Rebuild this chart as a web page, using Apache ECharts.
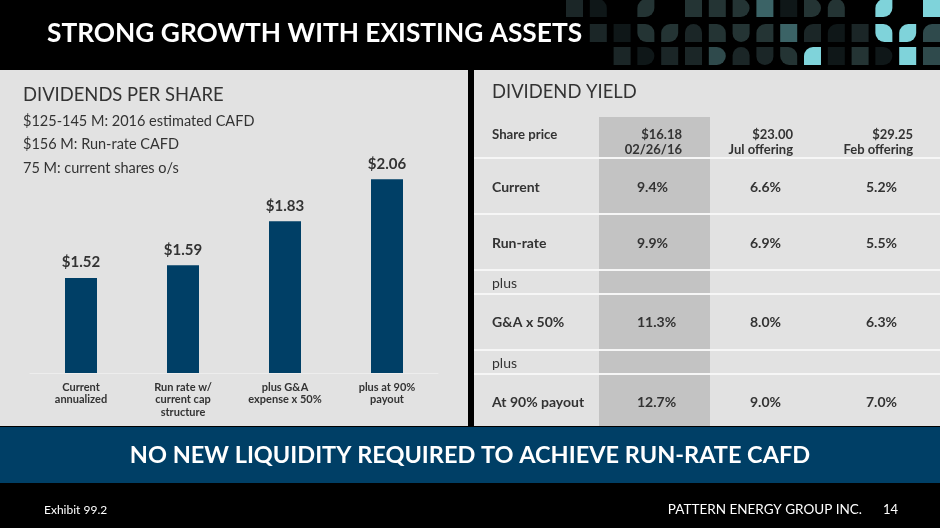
<!DOCTYPE html>
<html>
<head>
<meta charset="utf-8">
<script src="https://cdn.jsdelivr.net/npm/echarts@6/dist/echarts.min.js"></script>
<style>
  html, body { margin: 0; padding: 0; background: #000; }
  #main { width: 940px; height: 528px; }
</style>
</head>
<body>
<div id="main"></div>
<script>
(function () {
  // bar chart data
  var dpsCategories = ['Current\nannualized', 'Run rate w/\ncurrent cap\nstructure', 'plus G&A\nexpense x 50%', 'plus at 90%\npayout'];
  var dpsValues = [1.52, 1.59, 1.83, 2.06];
  var dpsNotes = ['$125-145 M: 2016 estimated CAFD', '$156 M: Run-rate CAFD', '75 M: current shares o/s'];

  // yield table data
  var priceHeads = [['$16.18', '02/26/16'], ['$23.00', 'Jul offering'], ['$29.25', 'Feb offering']];
  var rowNames = ['Current', 'Run-rate', 'G&A x 50%', 'At 90% payout'];
  var yieldAt1618 = [9.4, 9.9, 11.3, 12.7];
  var yieldAt2300 = [6.6, 6.9, 8.0, 9.0];
  var yieldAt2925 = [5.2, 5.5, 6.3, 7.0];

  var BLUE = '#003f66';
  var PANEL = '#e2e2e2';
  var INK = '#333333';
  var FONT = 'Lato, "Open Sans", sans-serif';

  var chart = echarts.init(document.getElementById('main'));
  var g = [];

  function txt(x, y, s, size, weight, color, align) {
    g.push({
      type: 'text', x: x, y: y, z: 10,
      style: {
        text: s, fill: color || INK, font: (weight || 'normal') + ' ' + size + 'px ' + FONT,
        textAlign: align || 'left', textVerticalAlign: 'middle'
      }
    });
  }
  function box(x, y, w, h, color, z, r) {
    g.push({ type: 'rect', z: z || 1, shape: { x: x, y: y, width: w, height: h, r: r || 0 }, style: { fill: color } });
  }

  // panels and banner
  box(0, 70, 468, 356, PANEL, 0);
  box(474, 70, 466, 356, PANEL, 0);
  box(0, 427, 940, 56, BLUE, 0);

  // decorative tiles top right: [col, row, color, shape]
  var tileColors = ['#0f1718', '#1b2627', '#243434', '#2f4a4c', '#3b6366', '#7fd3da'];
  var shapes = { sq: 0, d: [0, 9, 9, 0], top: [9, 9, 0, 0], bot: [0, 0, 9, 9], tl: [9, 0, 0, 0], tr: [0, 9, 0, 0], lf: [9, 0, 9, 0], lf2: [0, 9, 0, 9] };
  var tiles = [
    [0, 0, 1, 'sq'], [1, 0, 0, 'tr'], [3, 0, 2, 'lf'], [5, 0, 2, 'sq'], [6, 0, 2, 'sq'], [7, 0, 2, 'd'],
    [8, 0, 4, 'sq'], [9, 0, 0, 'sq'], [10, 0, 2, 'd'], [11, 0, 2, 'top'], [13, 0, 5, 'lf'], [15, 0, 5, 'sq'],
    [1, 1, 1, 'sq'], [2, 1, 0, 'sq'], [3, 1, 2, 'lf2'], [4, 1, 2, 'lf'], [5, 1, 1, 'top'], [6, 1, 2, 'tr'],
    [7, 1, 2, 'bot'], [8, 1, 2, 'tl'], [9, 1, 4, 'sq'], [10, 1, 1, 'tl'], [11, 1, 0, 'tl'], [12, 1, 1, 'sq'],
    [13, 1, 5, 'lf2'], [14, 1, 5, 'lf'], [15, 1, 3, 'tl'],
    [2, 2, 1, 'sq'], [3, 2, 0, 'd'], [4, 2, 1, 'sq'], [5, 2, 1, 'sq'], [6, 2, 3, 'd'], [7, 2, 1, 'top'],
    [8, 2, 1, 'bot'], [9, 2, 2, 'lf2'], [10, 2, 5, 'tl'], [11, 2, 0, 'sq'], [12, 2, 2, 'sq'], [13, 2, 0, 'd'],
    [14, 2, 5, 'sq'], [15, 2, 3, 'sq']
  ];
  tiles.forEach(function (t) {
    box(566 + t[0] * 23.8, [-1, 24, 47][t[1]], 17, 18, tileColors[t[2]], 1, shapes[t[3]]);
  });

  // titles
  txt(47, 34, 'STRONG GROWTH WITH EXISTING ASSETS', 26.3, 'bold', '#ffffff');
  txt(470, 455, 'NO NEW LIQUIDITY REQUIRED TO ACHIEVE RUN-RATE CAFD', 23.5, 'bold', '#ffffff', 'center');
  txt(44, 510, 'Exhibit 99.2', 12, 'normal', '#ffffff');
  txt(862, 510, 'PATTERN ENERGY GROUP INC.', 13.5, 'normal', '#ffffff', 'right');
  txt(883, 510, '14', 13, 'normal', '#ffffff');

  // left panel heading
  txt(23, 95, 'DIVIDENDS PER SHARE', 18.4, 'normal', INK);
  dpsNotes.forEach(function (s, i) { txt(23, 121 + i * 23.5, s, 14.5, 'normal', INK); });

  // right panel: yield table
  txt(492, 92, 'DIVIDEND YIELD', 18.4, 'normal', INK);
  var shadeX = 599, shadeW = 111;
  box(shadeX, 117, shadeW, 309, '#c3c3c3', 2);
  var seps = [158, 214, 270, 294, 350, 374];
  seps.forEach(function (y) { box(474, y - 1, 466, 2, '#f6f6f6', 3); });

  txt(492, 135, 'Share price', 13.2, 'bold', INK);
  var headRight = [682, 793, 913];
  priceHeads.forEach(function (h, i) {
    txt(headRight[i], 135, h[0], 13, 'bold', INK, 'right');
    txt(headRight[i], 150, h[1], 13, 'bold', INK, 'right');
  });

  var rowY = [187, 243, 322, 402];
  var valX = [637, 750, 866];
  var cols = [yieldAt1618, yieldAt2300, yieldAt2925];
  rowNames.forEach(function (name, r) {
    txt(492, rowY[r], name, 14, 'bold', INK);
    cols.forEach(function (col, c) {
      txt(valX[c], rowY[r], col[r].toFixed(1) + '%', 14, 'bold', INK);
    });
  });
  txt(492, 283, 'plus', 14, 'normal', INK);
  txt(492, 363, 'plus', 14, 'normal', INK);

  var option = {
    backgroundColor: '#000000',
    animation: false,
    textStyle: { fontFamily: FONT },
    graphic: { elements: g },
    grid: { left: 30, right: 502, top: 172, bottom: 155, containLabel: false, z: 5 },
    xAxis: {
      type: 'category',
      z: 6,
      data: dpsCategories,
      axisLine: { show: true, lineStyle: { color: '#ededed', width: 1 } },
      axisTick: { show: false },
      axisLabel: { color: INK, fontSize: 11, fontWeight: 'bold', lineHeight: 12.5, margin: 8, interval: 0, fontFamily: FONT, verticalAlign: 'top' }
    },
    yAxis: {
      type: 'value', min: 1, max: 2.1, show: false, z: 6,
      splitLine: { show: false }
    },
    series: [{
      type: 'bar',
      data: dpsValues,
      barWidth: 32,
      z: 7,
      itemStyle: { color: BLUE },
      label: {
        show: true, position: 'top', distance: 8,
        formatter: function (p) { return '$' + p.value.toFixed(2); },
        color: INK, fontSize: 15, fontWeight: 'bold', fontFamily: FONT
      }
    }]
  };
  chart.setOption(option);
})();
</script>
</body>
</html>
